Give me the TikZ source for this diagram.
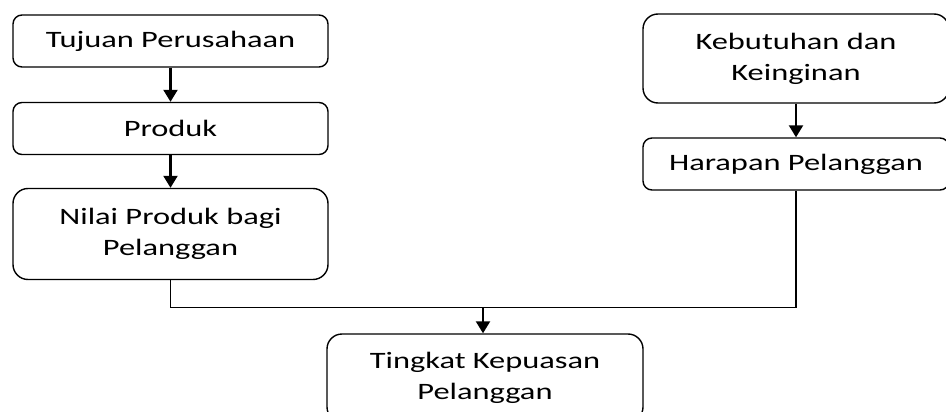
\documentclass[tikz,border=0pt]{standalone}
\usepackage{fontspec}
\setmainfont[FakeStretch=1.38]{Carlito}
\usetikzlibrary{arrows.meta,calc}
\begin{document}
\begin{tikzpicture}[x=1pt,y=-1pt,
  box/.style={draw=black,line width=1.4pt,fill=white,align=center,inner sep=0pt,
    font=\fontsize{23.5}{31}\selectfont},
  lbox/.style={box,rounded corners=9pt,minimum width=315pt,minimum height=52pt},
  tbox/.style={box,rounded corners=15pt,minimum width=315pt,minimum height=91pt},
  arr/.style={line width=2.2pt,-{Triangle[width=14pt,length=12pt]}},
  conn/.style={line width=1.6pt}]
\useasboundingbox (0,0) rectangle (946,412);
\clip (0,0) rectangle (946,412);
\node[lbox] (A) at (170.5,41) {Tujuan Perusahaan};
\node[lbox] (B) at (170.5,128.5) {Produk};
\node[tbox] (C) at (170.5,234) {Nilai Produk bagi\\Pelanggan};
\node[tbox,minimum width=306pt,minimum height=89pt] (D) at (796,58.5) {Kebutuhan dan\\Keinginan};
\node[lbox,minimum width=306pt] (E) at (796,164) {Harapan Pelanggan};
\node[tbox,minimum width=316pt,minimum height=88pt] (F) at (485,378) {Tingkat Kepuasan\\Pelanggan};
\coordinate (J) at ($(F.north)+(-2,-26)$);
\draw[arr] (A.south) -- (B.north);
\draw[arr] (B.south) -- (C.north);
\draw[arr] (D.south) -- (E.north);
\draw[conn] (C.south) -- (C.south |- J) -- (E.south |- J) -- (E.south);
\draw[arr] (J) -- (J |- F.north);
\end{tikzpicture}
\end{document}
